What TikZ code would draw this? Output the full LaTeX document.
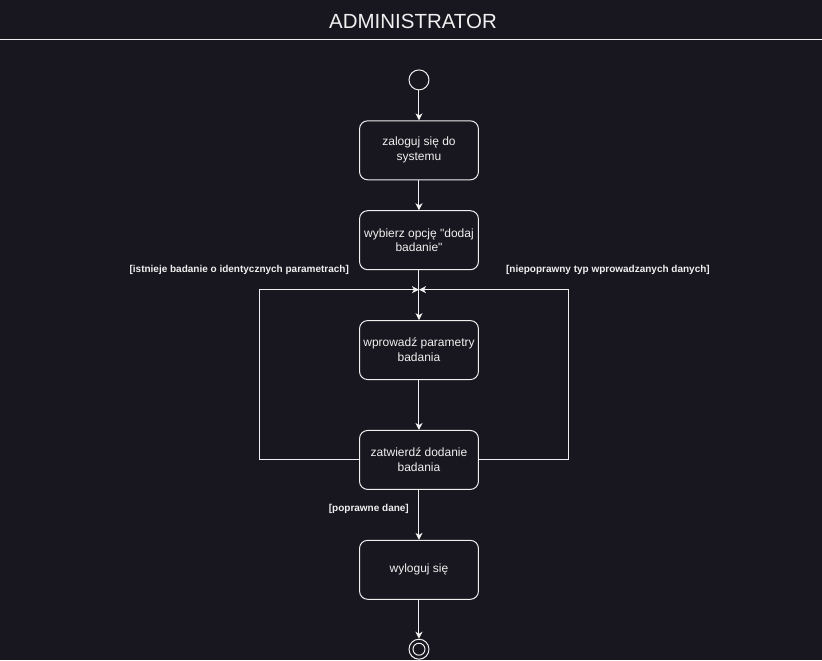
\documentclass[tikz,border=0pt]{standalone}
\usepackage{fontspec}
\setmainfont{Liberation Sans}
\usetikzlibrary{positioning, arrows.meta}
\definecolor{bgdark}{RGB}{24,22,30}
\definecolor{fgline}{RGB}{240,240,240}

\begin{document}
\begin{tikzpicture}[x=1pt, y=-1pt,
    act/.style = {draw=fgline, line width=1pt, rounded corners=8pt, minimum width=119pt,
                  minimum height=59pt, align=center, text=fgline, font=\fontsize{12}{15}\selectfont},
    state/.style = {draw=fgline, line width=1pt, circle, inner sep=0pt},
    guard/.style = {text=fgline, inner sep=0pt, font=\fontsize{10}{12}\selectfont\bfseries},
    flow/.style = {draw=fgline, line width=1pt, -{Stealth[length=7pt, width=7pt, inset=2pt]}},
    node distance = 30pt]
    \fill[bgdark] (0,0) rectangle (822,661);
    \node[text=fgline, font=\fontsize{20.5}{24}\selectfont] (title) at (413,21) {ADMINISTRATOR};
    \coordinate (sepL) at (0,40);
    \coordinate (sepR) at (822,40);
    \draw[fgline, line width=1pt] (sepL) -- (sepR);
    \node[state, minimum size=20pt] (start) at (419,80) {};
    \node[act, below=of start] (login) {zaloguj się do\\systemu};
    \node[act, below=of login] (choose) {wybierz opcję \textquotedbl dodaj\\badanie\textquotedbl};
    \node[act, below=50pt of choose] (params) {wprowadź parametry\\badania};
    \node[act, below=50pt of params] (confirm) {zatwierdź dodanie\\badania};
    \node[act, below=50pt of confirm] (logout) {wyloguj się};
    \node[state, minimum size=20pt, below=39pt of logout] (stop) {};
    \node[state, minimum size=12pt] (stopin) at (stop) {};
    \coordinate (join) at (419,290);
    \coordinate (loopL) at (259,460);
    \coordinate (loopR) at (569,460);
    \draw[flow] (start) -- (login);
    \draw[flow] (login) -- (choose);
    \draw[flow] (choose) -- (params);
    \draw[flow] (params) -- (confirm);
    \draw[flow] (confirm.west) -- (confirm.west -| loopL) |- (join);
    \draw[flow] (confirm.east) -- (confirm.east -| loopR) |- (join);
    \draw[flow] (confirm) -- (logout);
    \draw[flow] (logout) -- (stop);
    \node[guard, anchor=east] (sameparams) at (349,270) {[istnieje badanie o identycznych parametrach]};
    \node[guard, anchor=west] (wrongtype) at (506,270) {[niepoprawny typ wprowadzanych danych]};
    \node[guard, anchor=east] (validdata) at (409,510) {[poprawne dane]};
\end{tikzpicture}
\end{document}
